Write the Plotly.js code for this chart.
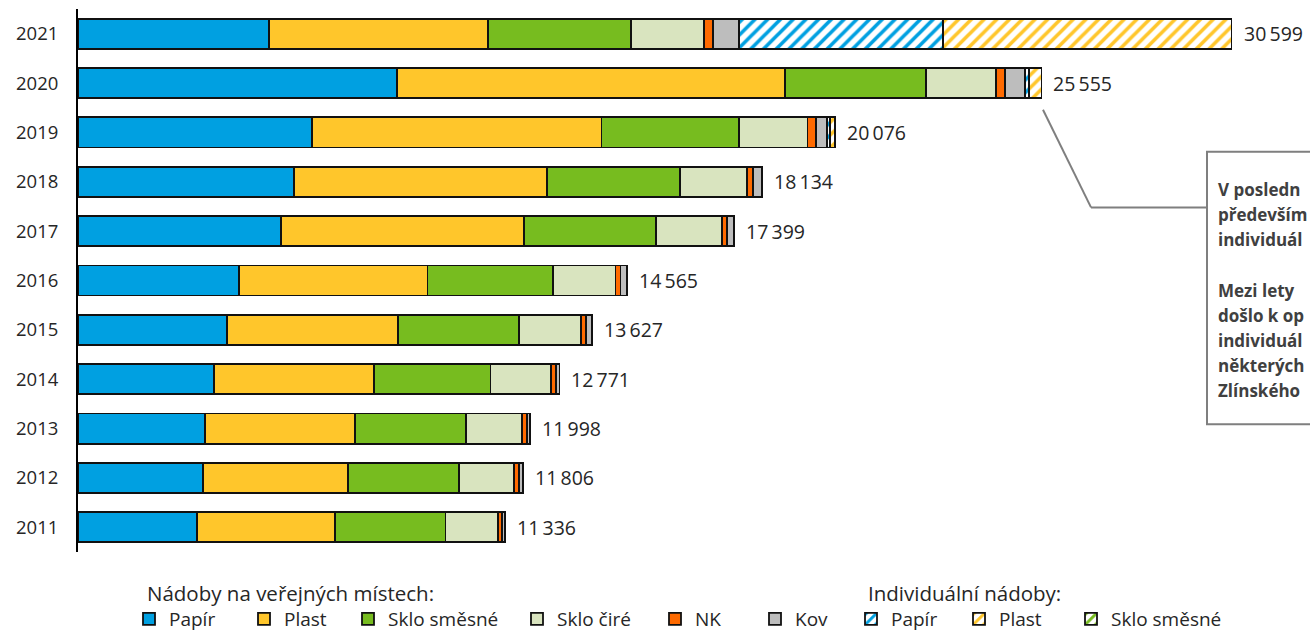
<!DOCTYPE html>
<html>
<head>
<meta charset="utf-8">
<script src="https://cdn.plot.ly/plotly-3.0.1.min.js"></script>
<style>html,body{margin:0;padding:0;background:#fff;}#chart{width:1310px;height:636px;}</style>
</head>
<body>
<div id="chart"></div>
<script>
// ---- data (2011 -> 2021) ----
const years = ['2011','2012','2013','2014','2015','2016','2017','2018','2019','2020','2021'];
const papir    = [3149, 3308, 3377, 3615, 3944, 4279, 5377, 5730, 6210, 8453, 5066];
const plast    = [3676, 3856, 3961, 4231, 4554, 4991, 6459, 6702, 7677, 10310, 5817];
const skloSm   = [2923, 2952, 2963, 3095, 3202, 3324, 3493, 3538, 3642, 3725, 3793];
const skloCire = [1393, 1459, 1485, 1599, 1645, 1663, 1743, 1785, 1822, 1862, 1928];
const nk       = [114, 125, 114, 143, 133, 133, 149, 151, 231, 236, 231];
const kov      = [81, 106, 98, 88, 149, 175, 178, 228, 292, 535, 698];
const indPapir = [0, 0, 0, 0, 0, 0, 0, 0, 80, 111, 5411];
const indPlast = [0, 0, 0, 0, 0, 0, 0, 0, 122, 323, 7653];
const indSklo  = [0, 0, 0, 0, 0, 0, 0, 0, 0, 0, 2];
const totals   = [11336, 11806, 11998, 12771, 13627, 14565, 17399, 18134, 20076, 25555, 30599];

const seriesNames = ['Papír','Plast','Sklo směsné','Sklo čiré','NK','Kov','Papír','Plast','Sklo směsné'];
const groupTitles = ['Nádoby na veřejných místech:', 'Individuální nádoby:'];
// callout text as visible in the reference (cut off by the right edge there)
const calloutLines = ['V posledn', 'především', 'individuál', 'Mezi lety', 'došlo k op', 'individuál', 'některých', 'Zlínského'];

// ---- styling ----
const FONT = 'Open Sans, Lato, sans-serif';
const TXT = '#262626';
const solidColors = ['#00A0E1','#FFC62B','#77BC1F','#D9E4BF','#FF6A00','#BDBDBD'];
const hatchColors = ['#00A0E1','#FFC62B','#77BC1F'];
const outline = {color:'#111111', width:1.8};

// layout geometry (pixels)
const W = 1310, H = 636;
const mL = 78, mR = 0, mT = 9.4, mB = 84.4;
const plotW = W - mL - mR, plotH = H - mT - mB;
const xMax = plotW / 0.0377;
const px = p => (p - mL) / plotW;          // pixel x -> paper
const py = p => (H - mB - p) / plotH;      // pixel y -> paper

const solidData = [papir, plast, skloSm, skloCire, nk, kov];
const hatchData = [indPapir, indPlast, indSklo];
const legendX = [145, 260, 364, 533, 671, 771, 867, 975, 1087];
const calloutY = [190, 215, 240, 290, 315, 340, 365, 390];

const traces = [];
solidData.forEach((vals, i) => {
  traces.push({
    type:'bar', orientation:'h', y: years, x: vals,
    name: seriesNames[i],
    legend: i === 0 ? 'legend' : 'legend' + (i + 1),
    marker:{color: solidColors[i], line: outline},
    hoverinfo:'x+name'
  });
});
hatchData.forEach((vals, j) => {
  const i = j + 6;
  traces.push({
    type:'bar', orientation:'h', y: years, x: vals,
    name: seriesNames[i],
    legend: 'legend' + (i + 1),
    marker:{color:'#FFFFFF', line: outline,
      pattern:{shape:'/', fgcolor: hatchColors[j], bgcolor:'#FFFFFF', size:9, solidity:0.4}},
    hoverinfo:'x+name'
  });
});

const fmt = v => String(v).replace(/\B(?=(\d{3})+(?!\d))/g, '\u2009');

const annotations = totals.map((t, k) => ({
  x: t, y: k, xref:'x', yref:'y', text: fmt(t),
  showarrow:false, xanchor:'left', yanchor:'middle', xshift: 10,
  font:{family: FONT, size:19.5, color: TXT}
}));
annotations.push({
  xref:'paper', yref:'paper', x: px(145), y: py(593), xanchor:'left', yanchor:'middle',
  text: groupTitles[0], showarrow:false, font:{family: FONT, size:20.5, color: TXT}
});
annotations.push({
  xref:'paper', yref:'paper', x: px(866), y: py(593), xanchor:'left', yanchor:'middle',
  text: groupTitles[1], showarrow:false, font:{family: FONT, size:20.5, color: TXT}
});
calloutLines.forEach((line, i) => {
  annotations.push({
    xref:'paper', yref:'paper', x: px(1216), y: py(calloutY[i]), xanchor:'left', yanchor:'middle',
    text: line, align:'left', showarrow:false,
    font:{family: FONT, size:17, color:'#404040', weight:'bold'}
  });
});

const shapes = [
  {type:'rect', xref:'paper', yref:'paper', x0: px(1207), x1: px(1400), y0: py(424), y1: py(152),
   line:{color:'#7F7F7F', width:2}, fillcolor:'rgba(255,255,255,0)', layer:'above'},
  {type:'line', xref:'paper', yref:'paper', x0: px(1043), y0: py(110), x1: px(1091), y1: py(207.5),
   line:{color:'#7F7F7F', width:2}},
  {type:'line', xref:'paper', yref:'paper', x0: px(1091), y0: py(207.5), x1: px(1207), y1: py(207.5),
   line:{color:'#7F7F7F', width:2}}
];

const layout = {
  width: W, height: H,
  margin:{l:mL, r:mR, t:mT, b:mB, pad:0},
  paper_bgcolor:'#FFFFFF', plot_bgcolor:'#FFFFFF',
  barmode:'stack', bargap:0.39,
  font:{family: FONT, color: TXT},
  xaxis:{range:[0, xMax], showgrid:false, zeroline:false, showticklabels:false, ticks:'', showline:false, fixedrange:true},
  yaxis:{type:'category', categoryorder:'array', categoryarray: years, range:[-0.5, 10.5],
    showgrid:false, zeroline:false, showline:true, linecolor:'#000000', linewidth:2,
    ticks:'', ticklabelstandoff:14, tickfont:{family: FONT, size:18.5, color: TXT}, fixedrange:true},
  annotations: annotations,
  shapes: shapes,
  showlegend:true
};
legendX.forEach((lx, i) => {
  const key = i === 0 ? 'legend' : 'legend' + (i + 1);
  layout[key] = {
    xref:'container', yref:'container', x: (lx - 16) / W, y: 1 - 619 / H,
    xanchor:'left', yanchor:'middle', orientation:'h',
    bgcolor:'rgba(0,0,0,0)', borderwidth:0,
    font:{family: FONT, size:19, color: TXT}
  };
});

Plotly.newPlot('chart', traces, layout, {displayModeBar:false, staticPlot:true});
</script>
</body>
</html>
